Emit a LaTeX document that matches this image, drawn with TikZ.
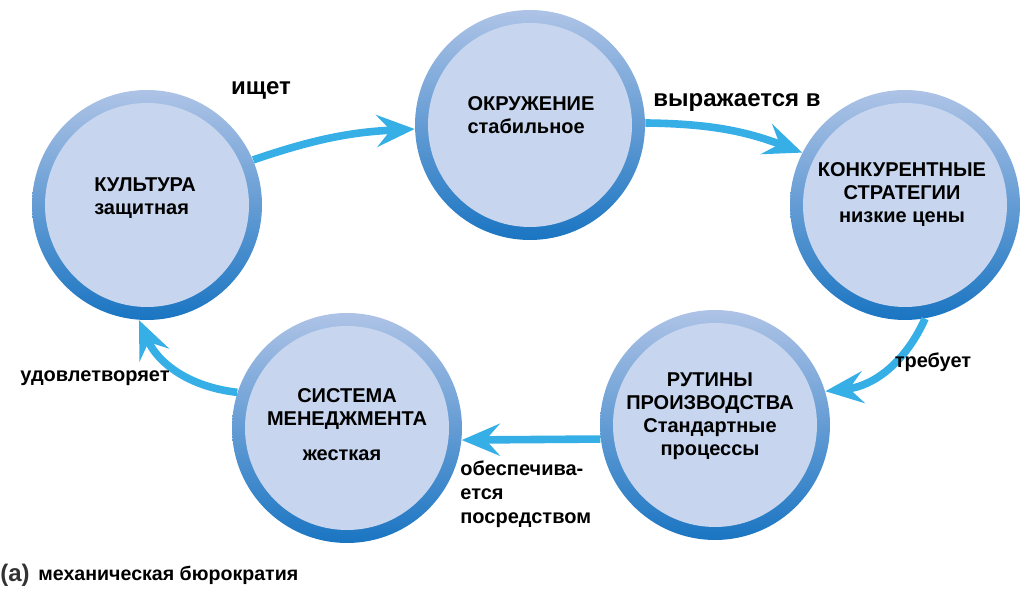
\documentclass[tikz,border=0pt]{standalone}
\usepackage{fontspec}
\setmainfont{Liberation Sans}
\usetikzlibrary{arrows.meta}

\definecolor{rimtop}{HTML}{AEC3E6}
\definecolor{rimbot}{HTML}{1A75C2}
\definecolor{bubfill}{HTML}{C7D6EE}
\definecolor{flowblue}{HTML}{36AEE6}

\tikzset{
  bubble/.style={circle, minimum size=115pt, inner sep=0pt,
    top color=rimtop, bottom color=rimbot,
    path picture={\fill[bubfill] (path picture bounding box.center) circle (51pt);}},
  bubtext/.style={font=\bfseries\fontsize{10}{11.5}\selectfont, inner sep=0pt},
  flow/.style={flowblue, line width=3.8pt,
    -{Stealth[length=19pt, width=16pt, inset=7pt]}},
  verb/.style={font=\bfseries\fontsize{10}{12}\selectfont, inner sep=0pt},
  bigverb/.style={font=\bfseries\fontsize{12}{14}\selectfont, inner sep=0pt}
}

\begin{document}
\begin{tikzpicture}[x=0.5pt, y=0.5pt]
    \useasboundingbox (0,0) rectangle (1024,592);

    % the five circles
    \node[bubble] (cult) at (147,387) {};
    \node[bubble] (env) at (530,467) {};
    \node[bubble] (strat) at (905,387) {};
    \node[bubble] (rout) at (715,167) {};
    \node[bubble] (mgmt) at (347,164) {};

    % texts inside the circles
    \node[bubtext, align=left] (cultT) at (145,394) {КУЛЬТУРА\\защитная};
    \node[bubtext, align=left] (envT) at (531,477) {ОКРУЖЕНИЕ\\стабильное};
    \node[bubtext, align=center] (stratT) at (902,397) {КОНКУРЕНТНЫЕ\\СТРАТЕГИИ\\низкие цены};
    \node[bubtext, align=center] (routT) at (710,176) {РУТИНЫ\\ПРОИЗВОДСТВА\\Стандартные\\процессы};
    \node[bubtext, align=center] (mgmtT) at (347,183) {СИСТЕМА\\МЕНЕДЖМЕНТА};
    \node[bubtext] (mgmtT2) at (342,137) {жесткая};

    % the cycle of arrows
    \draw[flow] (cult.23) to[bend left=8] (env.182);
    \draw[flow] (env.1) to[bend left=10] (strat.153);
    \draw[flow] (strat.-80) to[bend left=30] (rout.17);
    \draw[flow] (rout.187) -- (mgmt.-6);
    \draw[flow] (mgmt.162) to[bend left=30] (cult.266);

    % labels of the arrows
    \node[bigverb] (seeks) at (261,502) {ищет};
    \node[bigverb] (expr) at (737,489) {выражается в};
    \node[verb] (needs) at (933,230) {требует};
    \node[verb, align=left, anchor=north west] (prov) at (460,132) {обеспечива-\\ется\\посредством};
    \node[verb] (meets) at (95,214) {удовлетворяет};

    % caption
    \node[anchor=west, inner sep=0pt, text=black!80, font=\bfseries\fontsize{12}{14}\selectfont] (capA) at (0,17) {(a)};
    \node[anchor=west, inner sep=0pt, font=\bfseries\fontsize{9.8}{11}\selectfont] (capT) at (38,17) {механическая бюрократия};
\end{tikzpicture}
\end{document}
